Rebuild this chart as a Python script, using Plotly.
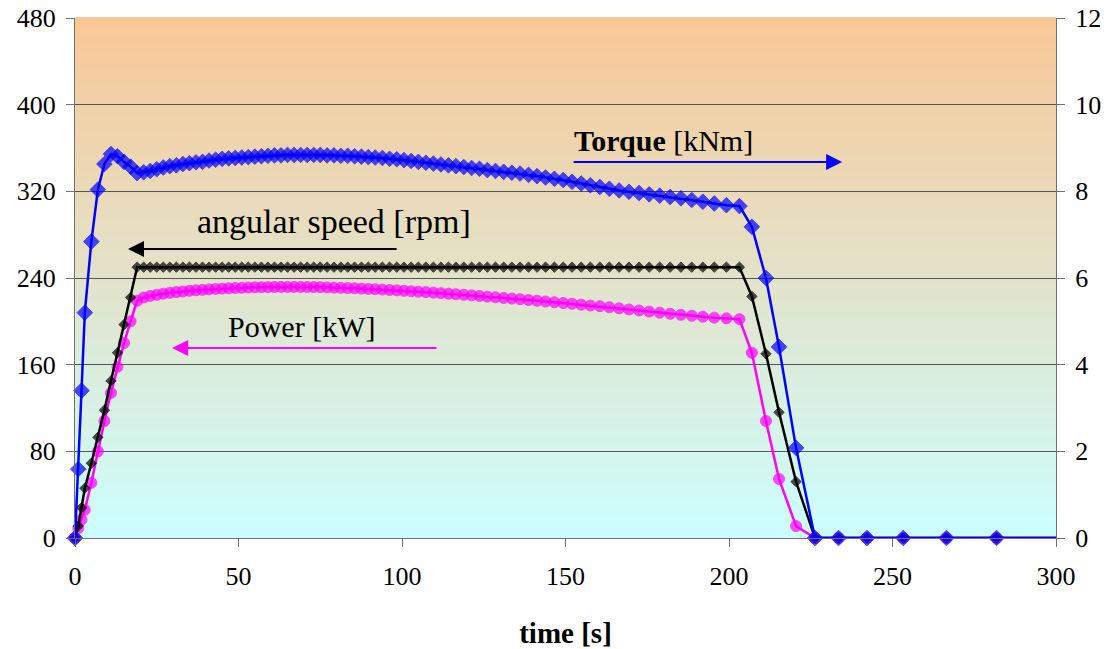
import plotly.graph_objects as go

# time [s]
time_s = [0, 1, 2, 3, 5, 7, 9, 11, 13, 15, 17, 19,
          21, 23, 25, 27, 29, 31, 33, 35, 37, 39, 41, 43, 45, 47, 49, 51, 53, 55, 57, 59,
          61, 63, 65, 67, 69, 71, 73, 75,
          77.1, 79.2, 81.3, 83.4, 85.5, 87.6, 89.7, 91.8,
          94.0, 96.2, 98.4, 100.6, 102.8, 105.0,
          107.3, 109.6, 111.9, 114.2, 116.5,
          118.9, 121.3, 123.7, 126.1,
          128.6, 131.1, 133.6, 136.1,
          138.7, 141.3, 143.9,
          146.6, 149.3, 152.0,
          154.8, 157.6, 160.5, 163.4, 166.4, 169.4, 172.5, 175.6, 178.8, 182.0, 185.3, 188.6,
          192.0, 195.5, 199.2, 203.2,
          207, 211.3, 215.3, 220.5, 226.3, 233.5, 242.2, 253.3, 266.5, 281.8, 300]

# torque [kNm] (right axis)
torque_knm = [0, 1.59, 3.40, 5.20, 6.84, 8.04, 8.63, 8.86, 8.81, 8.68, 8.57, 8.42,
              8.44, 8.47, 8.51, 8.55, 8.58, 8.60, 8.63, 8.65, 8.67, 8.68, 8.71, 8.73, 8.75, 8.76, 8.77, 8.78, 8.79, 8.80, 8.81, 8.82,
              8.83, 8.83, 8.84, 8.84, 8.84, 8.84, 8.84, 8.84,
              8.83, 8.83, 8.82, 8.82, 8.81, 8.80, 8.79, 8.78,
              8.77, 8.75, 8.74, 8.72, 8.70, 8.68,
              8.66, 8.64, 8.62, 8.60, 8.58,
              8.56, 8.54, 8.52, 8.49,
              8.47, 8.45, 8.43, 8.41,
              8.38, 8.35, 8.32,
              8.29, 8.26, 8.22,
              8.18, 8.14, 8.10, 8.06, 8.02, 7.99, 7.96, 7.93, 7.90, 7.87, 7.84, 7.80,
              7.76, 7.72, 7.68, 7.66,
              7.18, 6.00, 4.41, 2.08, 0, 0, 0, 0, 0, 0, 0]

# angular speed [rpm] (left axis)
speed_rpm = [0, 11, 28, 46, 69, 93, 118, 145, 171, 197, 222, 250,
             250, 250, 250, 250, 250, 250, 250, 250, 250, 250, 250, 250, 250, 250, 250, 250, 250, 250, 250, 250,
             250, 250, 250, 250, 250, 250, 250, 250,
             250, 250, 250, 250, 250, 250, 250, 250,
             250, 250, 250, 250, 250, 250,
             250, 250, 250, 250, 250,
             250, 250, 250, 250,
             250, 250, 250, 250,
             250, 250, 250,
             250, 250, 250,
             250, 250, 250, 250, 250, 250, 250, 250, 250, 250, 250, 250,
             250, 250, 250, 250,
             223, 170, 116, 52, 0, 0, 0, 0, 0, 0, 0]

# power [kW] (left axis)
power_kw = [0, 9, 17, 26, 51, 80, 108, 134, 158, 180, 200, 219,
            222, 223.5, 224.5, 225.5, 226.3, 227, 227.6, 228.2, 228.7, 229.1, 229.5, 229.9, 230.2, 230.5, 230.8, 231, 231.2, 231.4, 231.5, 231.6,
            231.7, 231.8, 231.8, 231.8, 231.8, 231.7, 231.6, 231.5,
            231.3, 231.1, 230.9, 230.7, 230.5, 230.2, 229.9, 229.6,
            229.3, 229, 228.6, 228.2, 227.8, 227.4,
            227, 226.5, 226, 225.5, 225,
            224.5, 224, 223.4, 222.8,
            222.2, 221.6, 221, 220.4,
            219.7, 219, 218.3,
            217.6, 216.9, 216.2,
            215.4, 214.6, 214, 213, 212, 211, 210, 209, 208, 207, 206, 205.2,
            204.3, 203.4, 202.8, 202,
            171, 108, 54.5, 11, 0, 0, 0, 0, 0, 0, 0]

left_ticks = [0, 80, 160, 240, 320, 400, 480]
right_ticks = [0, 2, 4, 6, 8, 10, 12]
x_ticks = [0, 50, 100, 150, 200, 250, 300]

SERIF = "Liberation Serif, Times New Roman, serif"

fig = go.Figure()

n = len(time_s)
sizes_blue = [12] * (n - 1) + [0]
sizes_pink = [11] * (n - 1) + [0]
sizes_black = [8] * (n - 1) + [0]
edge = [1] * (n - 1) + [0]

fig.add_trace(go.Scatter(x=time_s, y=power_kw, mode="lines+markers",
                         line=dict(color="#FF00FF", width=2.5),
                         marker=dict(symbol="circle", size=sizes_pink, color="#FF00FF",
                                     line=dict(color="#FF00FF", width=edge)),
                         yaxis="y", showlegend=False, cliponaxis=False))
fig.add_trace(go.Scatter(x=time_s, y=speed_rpm, mode="lines+markers",
                         line=dict(color="#000000", width=2.5),
                         marker=dict(symbol="diamond", size=sizes_black, color="#000000",
                                     line=dict(color="#000000", width=edge)),
                         yaxis="y", showlegend=False, cliponaxis=False))
fig.add_trace(go.Scatter(x=time_s, y=torque_knm, mode="lines+markers",
                         line=dict(color="#0000FF", width=2.5),
                         marker=dict(symbol="diamond", size=sizes_blue, color="#0000FF",
                                     line=dict(color="#0000FF", width=edge)),
                         yaxis="y2", showlegend=False, cliponaxis=False))

# gradient background (peach at top to light cyan at bottom)
top = (249, 199, 150)
bot = (204, 255, 255)
steps = 130
shapes = []
for i in range(steps):
    f0 = i / steps
    f1 = (i + 1) / steps
    fm = (i + 0.5) / steps  # fraction from bottom
    c = tuple(round(bot[k] + (top[k] - bot[k]) * fm) for k in range(3))
    shapes.append(dict(type="rect", xref="paper", yref="paper", x0=0, x1=1,
                       y0=f0, y1=f1 + 0.002, line=dict(width=0),
                       fillcolor="rgb(%d,%d,%d)" % c, layer="below"))

annotations = [
    dict(x=152, y=367, xref="x", yref="y", text="<b>Torque</b> [kNm]", showarrow=False,
         xanchor="left", yanchor="middle", font=dict(family=SERIF, size=30, color="black")),
    dict(x=234.6, y=347, ax=152, ay=347, xref="x", yref="y", axref="x", ayref="y",
         text="", showarrow=True, arrowhead=2, arrowsize=1.6, arrowwidth=2, arrowcolor="#0000FF"),
    dict(x=36.7, y=291.7, xref="x", yref="y", text="angular speed [rpm]", showarrow=False,
         xanchor="left", yanchor="middle", font=dict(family=SERIF, size=34, color="black")),
    dict(x=16.2, y=266.8, ax=98.8, ay=266.8, xref="x", yref="y", axref="x", ayref="y",
         text="", showarrow=True, arrowhead=2, arrowsize=1.6, arrowwidth=2, arrowcolor="#000000"),
    dict(x=46.2, y=194.8, xref="x", yref="y", text="Power [kW]", showarrow=False,
         xanchor="left", yanchor="middle", font=dict(family=SERIF, size=30, color="black")),
    dict(x=29.7, y=175.4, ax=111, ay=175.4, xref="x", yref="y", axref="x", ayref="y",
         text="", showarrow=True, arrowhead=2, arrowsize=1.6, arrowwidth=2, arrowcolor="#FF00FF"),
]

fig.update_layout(
    width=1112, height=649,
    margin=dict(l=75, r=56, t=18, b=111, autoexpand=False),
    paper_bgcolor="white",
    plot_bgcolor="white",
    shapes=shapes,
    annotations=annotations,
    font=dict(family=SERIF, size=26, color="black"),
    xaxis=dict(range=[0, 300], tickvals=x_ticks, showgrid=False, zeroline=False,
               showline=True, linecolor="#707070", linewidth=1, automargin=False,
               ticks="outside", ticklen=8, tickcolor="#707070",
               tickfont=dict(family=SERIF, size=26, color="black"),
               ticklabelstandoff=7,
               title=dict(text="<b>time [s]</b>", font=dict(family=SERIF, size=29, color="black"),
                          standoff=32)),
    yaxis=dict(range=[0, 480], tickvals=left_ticks, showgrid=True, gridcolor="#555555", gridwidth=1,
               zeroline=False, showline=True, linecolor="#707070", linewidth=1, automargin=False,
               ticks="outside", ticklen=8, tickcolor="#707070",
               tickfont=dict(family=SERIF, size=26, color="black"), ticklabelstandoff=5),
    yaxis2=dict(range=[0, 12], tickvals=right_ticks, overlaying="y", side="right",
                showgrid=False, zeroline=False, showline=True, linecolor="#707070", linewidth=1,
                automargin=False,
                ticks="outside", ticklen=8, tickcolor="#707070",
                tickfont=dict(family=SERIF, size=26, color="black"), ticklabelstandoff=5),
)

fig.write_html("out.html")
